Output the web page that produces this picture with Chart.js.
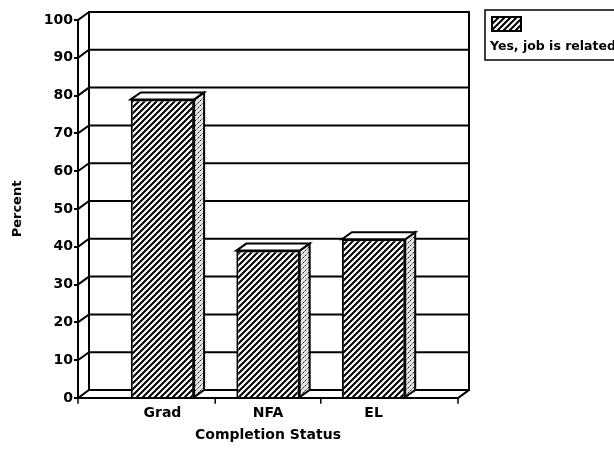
<!DOCTYPE html>
<html>
<head>
<meta charset="utf-8">
<script src="https://cdn.jsdelivr.net/npm/chart.js@4"></script>
<style>
  html, body { margin: 0; padding: 0; background: #fff; }
  #wrap { width: 614px; height: 450px; }
</style>
</head>
<body>
<div id="wrap"><canvas id="c" width="614" height="450"></canvas></div>
<script>
// ---- data ----
const categories = ['Grad', 'NFA', 'EL'];
const seriesName = 'Yes, job is related';
const percentValues = [79, 39, 42];
const yTickLabels = ['0', '10', '20', '30', '40', '50', '60', '70', '80', '90', '100'];
const xAxisTitle = 'Completion Status';
const yAxisTitle = 'Percent';

// ---- look ----
const FONT = '"DejaVu Sans", sans-serif';
const WALL_DX = 11, WALL_DY = -8;   // depth of the back wall
const BAR_DX = 10, BAR_DY = -7;     // depth of each bar

const canvas = document.getElementById('c');
const ctx = canvas.getContext('2d');

function makeHatch() {
  const t = document.createElement('canvas');
  t.width = 6; t.height = 6;
  const g = t.getContext('2d');
  g.fillStyle = '#fff';
  g.fillRect(0, 0, 6, 6);
  g.strokeStyle = '#000';
  g.lineWidth = 2;
  g.beginPath();
  g.moveTo(-1, 7); g.lineTo(7, -1);
  g.moveTo(-4, 4); g.lineTo(4, -4);
  g.moveTo(2, 10); g.lineTo(10, 2);
  g.stroke();
  return ctx.createPattern(t, 'repeat');
}

function makeStipple() {
  const t = document.createElement('canvas');
  t.width = 5; t.height = 5;
  const g = t.getContext('2d');
  g.fillStyle = '#e4e4e4';
  g.fillRect(0, 0, 5, 5);
  g.fillStyle = '#222';
  g.fillRect(0, 0, 1, 1);
  g.fillRect(3, 2, 1, 1);
  g.fillStyle = '#888';
  g.fillRect(1, 4, 1, 1);
  g.fillRect(4, 1, 1, 1);
  g.fillRect(2, 3, 1, 1);
  return ctx.createPattern(t, 'repeat');
}

const hatch = makeHatch();
const stipple = makeStipple();

// back wall, left wall and floor drawn behind the bars
const wallPlugin = {
  id: 'wall3d',
  beforeDatasetsDraw(chart) {
    const { ctx, chartArea: a, scales: { x, y } } = chart;
    ctx.save();
    ctx.strokeStyle = '#000';
    ctx.lineWidth = 2;
    ctx.lineCap = 'square';
    ctx.beginPath();
    y.ticks.forEach(t => {
      const py = y.getPixelForValue(t.value);
      ctx.moveTo(a.left, py);
      ctx.lineTo(a.left + WALL_DX, py + WALL_DY);
      ctx.lineTo(a.right + WALL_DX, py + WALL_DY);
    });
    ctx.moveTo(a.left + WALL_DX, a.top + WALL_DY);
    ctx.lineTo(a.left + WALL_DX, a.bottom + WALL_DY);
    ctx.moveTo(a.right + WALL_DX, a.top + WALL_DY);
    ctx.lineTo(a.right + WALL_DX, a.bottom + WALL_DY);
    ctx.moveTo(a.right, a.bottom);
    ctx.lineTo(a.right + WALL_DX, a.bottom + WALL_DY);
    ctx.stroke();

    // small ticks between the categories along the front edge
    ctx.lineWidth = 1.5;
    ctx.beginPath();
    const marks = [x.min, ...categories.slice(1).map((c, i) => i + 0.5), x.max];
    marks.forEach(v => {
      const px = x.getPixelForValue(v);
      ctx.moveTo(px, a.bottom);
      ctx.lineTo(px, a.bottom + 5);
    });
    ctx.stroke();
    ctx.restore();
  }
};

// top and side faces of each bar
const barDepthPlugin = {
  id: 'barDepth',
  afterDatasetsDraw(chart) {
    const { ctx } = chart;
    const meta = chart.getDatasetMeta(0);
    ctx.save();
    ctx.strokeStyle = '#000';
    ctx.lineWidth = 2;
    ctx.lineJoin = 'miter';
    meta.data.forEach(bar => {
      const p = bar.getProps(['x', 'y', 'width', 'base'], true);
      const l = p.x - p.width / 2, r = p.x + p.width / 2;
      // side
      ctx.beginPath();
      ctx.moveTo(r, p.y);
      ctx.lineTo(r + BAR_DX, p.y + BAR_DY);
      ctx.lineTo(r + BAR_DX, p.base + BAR_DY);
      ctx.lineTo(r, p.base);
      ctx.closePath();
      ctx.fillStyle = stipple;
      ctx.fill();
      ctx.stroke();
      // top
      ctx.beginPath();
      ctx.moveTo(l, p.y);
      ctx.lineTo(l + BAR_DX, p.y + BAR_DY);
      ctx.lineTo(r + BAR_DX, p.y + BAR_DY);
      ctx.lineTo(r, p.y);
      ctx.closePath();
      ctx.fillStyle = '#fff';
      ctx.fill();
      ctx.stroke();
    });
    ctx.restore();
  }
};

// boxed legend with the swatch above its label
const legendBoxPlugin = {
  id: 'legendBox',
  afterDraw(chart) {
    const { ctx } = chart;
    const ds = chart.data.datasets[0];
    const bx = 485, by = 10, bw = 140, bh = 50;
    ctx.save();
    ctx.strokeStyle = '#000';
    ctx.lineWidth = 1.5;
    ctx.strokeRect(bx, by, bw, bh);
    ctx.fillStyle = ds.backgroundColor;
    ctx.fillRect(bx + 7, by + 7, 29, 14);
    ctx.lineWidth = 2;
    ctx.strokeRect(bx + 7, by + 7, 29, 14);
    ctx.fillStyle = '#000';
    ctx.font = 'bold 12.5px ' + FONT;
    ctx.textBaseline = 'middle';
    ctx.textAlign = 'left';
    ctx.fillText(ds.label, bx + 5, by + 37);
    ctx.restore();
  }
};

new Chart(ctx, {
  type: 'bar',
  data: {
    datasets: [{
      label: seriesName,
      data: categories.map((c, i) => ({ x: i, y: percentValues[i] })),
      backgroundColor: hatch,
      borderColor: '#000',
      borderWidth: 2,
      barPercentage: 0.6,
      categoryPercentage: 1
    }]
  },
  options: {
    responsive: false,
    animation: false,
    devicePixelRatio: 1,
    layout: { padding: { top: 20, right: 156, left: 0, bottom: 0 } },
    plugins: { legend: { display: false }, tooltip: { enabled: false } },
    scales: {
      x: {
        type: 'linear',
        min: -0.8,
        max: 2.8,
        offset: false,
        afterBuildTicks: s => { s.ticks = categories.map((c, i) => ({ value: i })); },
        afterFit: s => { s.height = 52; },
        grid: { display: false, drawTicks: false, offset: false },
        border: { display: true, color: '#000', width: 2 },
        ticks: {
          callback: v => categories[v],
          font: { family: FONT, size: 14, weight: 'bold' },
          color: '#000',
          padding: 7,
          maxRotation: 0,
          autoSkip: false
        },
        title: {
          display: true,
          text: xAxisTitle,
          font: { family: FONT, size: 14, weight: 'bold' },
          color: '#000',
          padding: { top: 0, bottom: 6 }
        }
      },
      y: {
        min: 0,
        max: 100,
        afterFit: s => { s.width = 78; },
        grid: { display: true, drawOnChartArea: false, drawTicks: true, tickLength: 4, color: '#000', lineWidth: 2 },
        border: { display: true, color: '#000', width: 2 },
        ticks: {
          stepSize: 10,
          callback: (v, i) => yTickLabels[i],
          font: { family: FONT, size: 14, weight: 'bold' },
          color: '#000',
          padding: 1
        },
        title: {
          display: true,
          text: yAxisTitle,
          font: { family: FONT, size: 13, weight: 'bold' },
          color: '#000',
          padding: { top: 10, bottom: 0 }
        }
      }
    }
  },
  plugins: [wallPlugin, barDepthPlugin, legendBoxPlugin]
});
</script>
</body>
</html>
